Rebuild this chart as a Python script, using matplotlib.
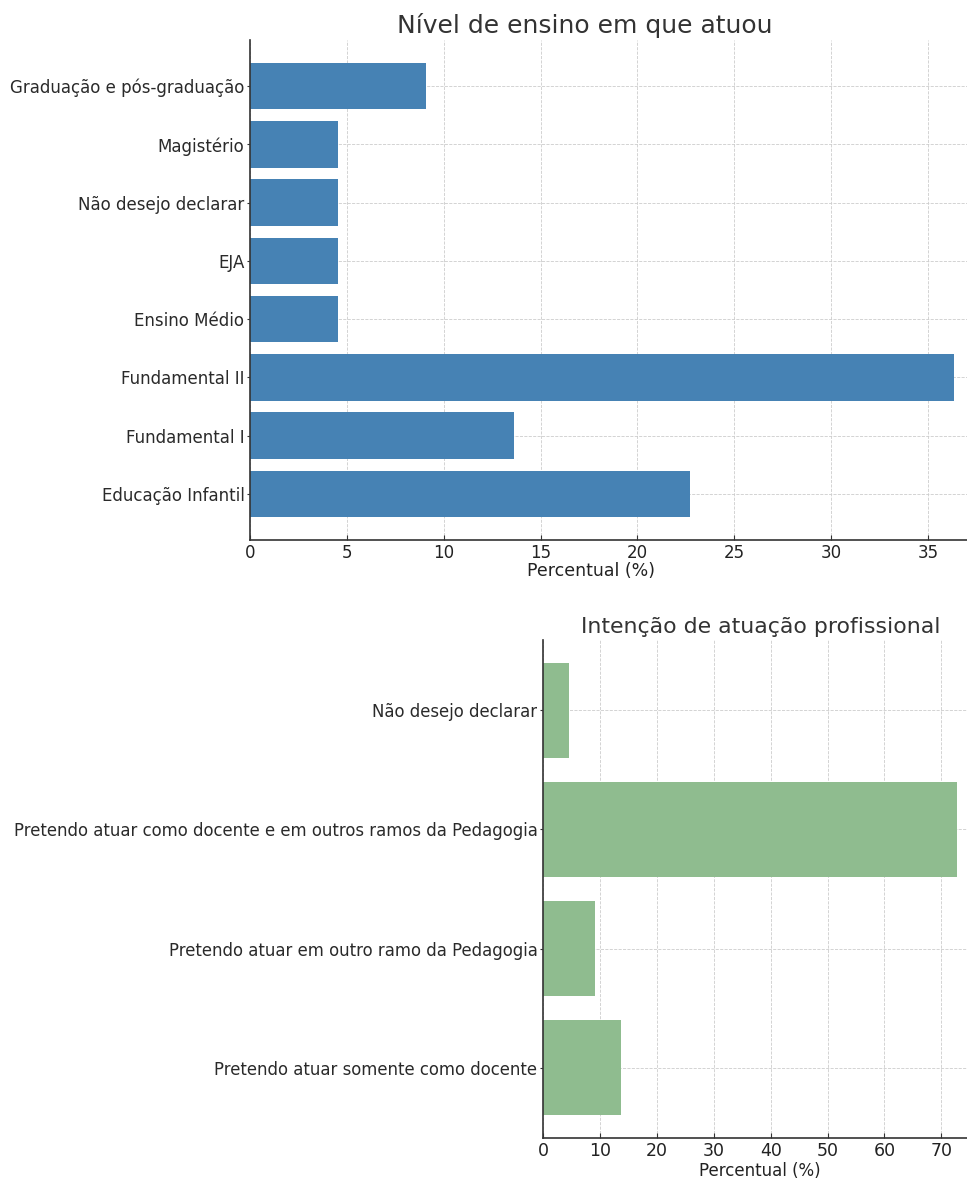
import matplotlib
matplotlib.use("Agg")
import matplotlib.pyplot as plt

nivel_labels = ["Educação Infantil", "Fundamental I", "Fundamental II", "Ensino Médio",
                "EJA", "Não desejo declarar", "Magistério", "Graduação e pós-graduação"]
nivel_values = [22.73, 13.64, 36.36, 4.55, 4.55, 4.55, 4.55, 9.09]

intencao_labels = ["Pretendo atuar somente como docente",
                   "Pretendo atuar em outro ramo da Pedagogia",
                   "Pretendo atuar como docente e em outros ramos da Pedagogia",
                   "Não desejo declarar"]
intencao_values = [13.64, 9.09, 72.73, 4.55]

plt.rcParams['font.family'] = ['DejaVu Sans']
fig = plt.figure(figsize=(9.67, 11.8), dpi=100)

def style(ax, fs_xt, fs_yt, fs_label):
    for s in ["top", "right"]:
        ax.spines[s].set_visible(False)
    for s in ["left", "bottom"]:
        ax.spines[s].set_color("#333333")
        ax.spines[s].set_linewidth(1.2)
    ax.grid(True, linestyle="--", color="#cccccc", linewidth=0.6)
    ax.set_axisbelow(True)
    ax.tick_params(axis="x", direction="in", labelsize=fs_xt, colors="#333333",
                   labelcolor="#222222", pad=3)
    ax.tick_params(axis="y", direction="out", labelsize=fs_yt, colors="#333333",
                   labelcolor="#2a2a2a", length=2.5, pad=1.5)
    ax.set_xlabel("Percentual (%)", fontsize=fs_label, color="#222222", labelpad=1)

ax1 = fig.add_axes([0.2585, 0.5424, 0.765, 0.4236])
ax1.barh(nivel_labels, nivel_values, color="#4682B4", height=0.8)
style(ax1, 12, 12, 12.5)
ax1.set_xticks([0, 5, 10, 15, 20, 25, 30, 35])
ax1.xaxis.set_label_coords(0.461, -0.045)
ax1.set_title("Nível de ensino em que atuou", fontsize=18, color="#333333", pad=5, x=0.452)

ax2 = fig.add_axes([0.5615, 0.0356, 0.4495, 0.422])
ax2.barh(intencao_labels, intencao_values, color="#8FBC8F", height=0.8)
style(ax2, 12.5, 11.9, 12)
ax2.set_xticks([0, 10, 20, 30, 40, 50, 60, 70])
ax2.set_title("Intenção de atuação profissional", fontsize=15.8, color="#333333", pad=5)

fig.savefig("out.png", dpi=100)
